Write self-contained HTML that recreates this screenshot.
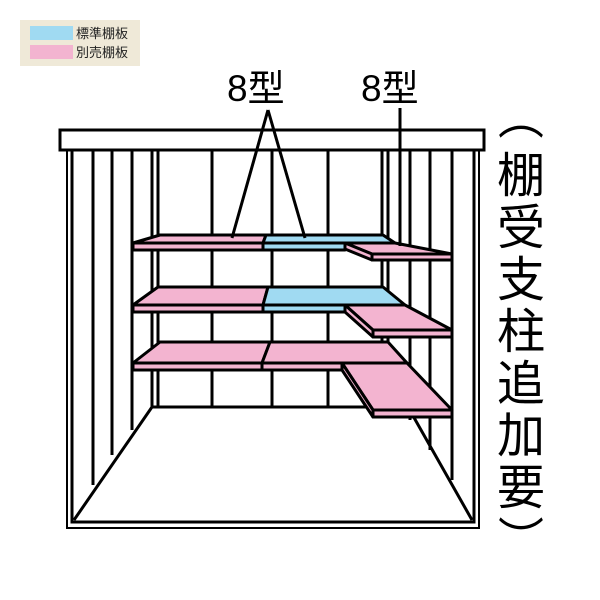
<!DOCTYPE html>
<html><head><meta charset="utf-8"><style>
html,body{margin:0;padding:0;background:#fff;}
svg{display:block;}
text{font-family:"Liberation Sans","Noto Sans CJK JP",sans-serif;}
</style></head><body>
<svg width="600" height="600" viewBox="0 0 600 600" xmlns="http://www.w3.org/2000/svg">
<rect x="20" y="20" width="120" height="46" fill="#efe9d8"/>
<rect x="30" y="26" width="43" height="14" fill="#a0daf2"/>
<rect x="30" y="45" width="43" height="14" fill="#f3b4d0"/>
<text x="76" y="38" font-size="13" fill="#222">標準棚板</text>
<text x="76" y="57" font-size="13" fill="#222">別売棚板</text>

<g stroke="#000" fill="none">
<rect x="67" y="150" width="412" height="378" stroke-width="2"/>
<path d="M72 150 V522 H474 V150" stroke-width="3"/>
<path d="M93 150V485 M112 150V455 M132 150V430 M152 150V407 M158 150V407" stroke-width="3"/>
<path d="M212 150V407 M272 150V407 M328 150V407 M382 150V407 M388 150V407" stroke-width="3"/>
<path d="M152 407H408" stroke-width="3"/>
<path d="M410 150V420 M430 150V450 M452 150V480" stroke-width="3"/>
<path d="M152 407 L74 520 M408 407 L472 520" stroke-width="3"/>
</g>
<rect x="60" y="130" width="424" height="20" fill="#fff" stroke="#000" stroke-width="3"/>

<g stroke="#000" stroke-width="3" stroke-linejoin="round">
<polygon points="133,243 160,235 266,235 263,243" fill="#f3b4d0"/>
<rect x="133" y="243" width="130" height="7" fill="#f3b4d0"/>
<polygon points="263,243 266,235 383,235 395,243" fill="#a0daf2"/>
<rect x="263" y="243" width="82" height="7" fill="#a0daf2"/>
<polygon points="345,243 395,243 452,254 372,254" fill="#f3b4d0"/>
<polygon points="345,243 372,254 372,260 345,249" fill="#f3b4d0"/>
<rect x="372" y="254" width="80" height="6" fill="#f3b4d0"/>

<polygon points="133,305 158,287 268,287 263,305" fill="#f3b4d0"/>
<rect x="133" y="305" width="130" height="7" fill="#f3b4d0"/>
<polygon points="263,305 268,287 383,287 405,305" fill="#a0daf2"/>
<rect x="263" y="305" width="82" height="7" fill="#a0daf2"/>
<polygon points="345,305 405,305 452,330 373,330" fill="#f3b4d0"/>
<polygon points="345,305 373,330 373,337 345,312" fill="#f3b4d0"/>
<rect x="373" y="330" width="79" height="7" fill="#f3b4d0"/>

<polygon points="133,363 160,342 270,342 262,363" fill="#f3b4d0"/>
<rect x="133" y="363" width="129" height="7" fill="#f3b4d0"/>
<polygon points="262,363 270,342 388,342 407,363" fill="#f3b4d0"/>
<rect x="262" y="363" width="80" height="7" fill="#f3b4d0"/>
<polygon points="342,363 407,363 452,410 373,410" fill="#f3b4d0"/>
<polygon points="342,363 373,410 373,417 342,370" fill="#f3b4d0"/>
<rect x="373" y="410" width="79" height="7" fill="#f3b4d0"/>
</g>

<g stroke="#000" stroke-width="3">
<path d="M268 110 L232 238 M268 110 L305 238"/>
<path d="M400 108 V246"/>
</g>
<text x="227" y="101" font-size="37" fill="#000">8型</text>
<text x="361" y="101" font-size="37" fill="#000">8型</text>

<g font-size="48" fill="#000" text-anchor="middle">
<text x="521" y="134" font-size="46">︵</text>
<text x="521" y="192">棚</text>
<text x="521" y="244">受</text>
<text x="521" y="296">支</text>
<text x="521" y="348">柱</text>
<text x="521" y="400">追</text>
<text x="521" y="452">加</text>
<text x="521" y="504">要</text>
<text x="521" y="556" font-size="46">︶</text>
</g>
</svg>
</body></html>
